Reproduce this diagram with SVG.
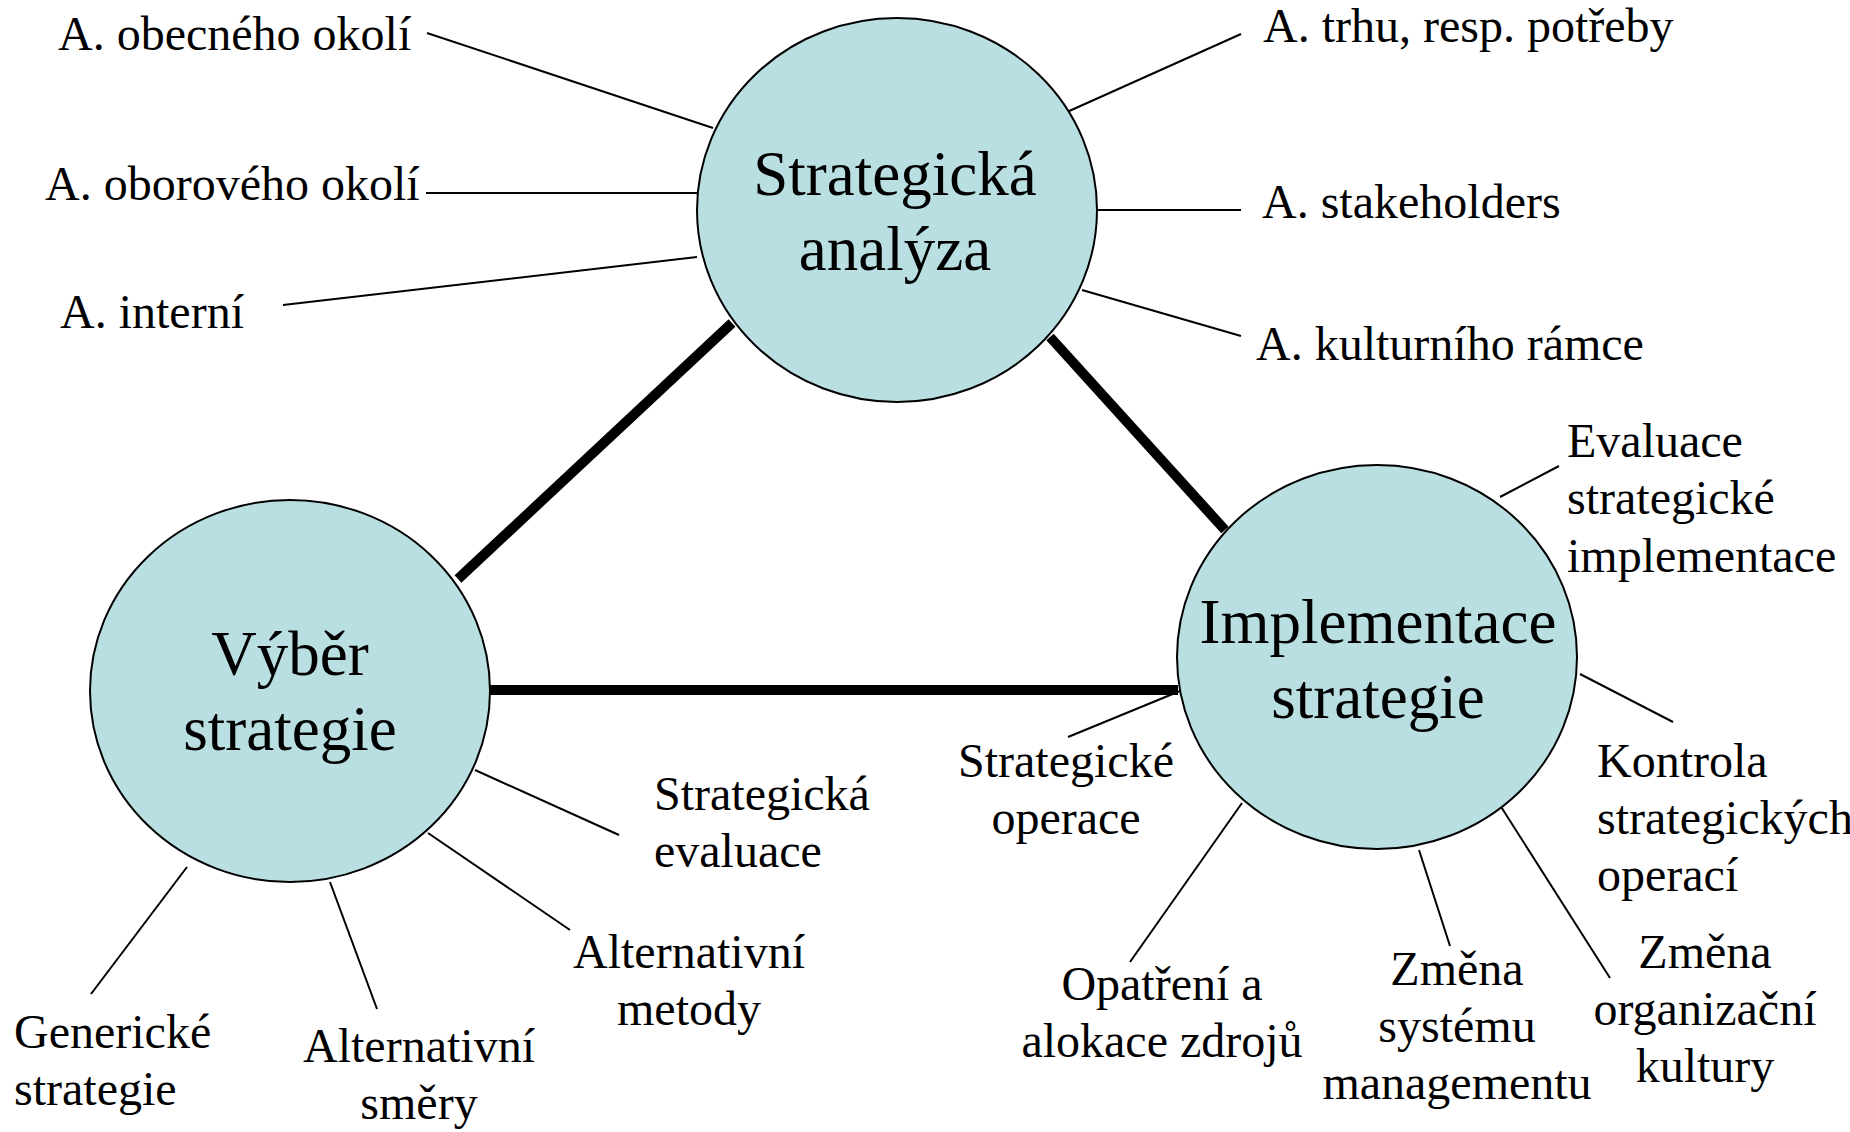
<svg xmlns="http://www.w3.org/2000/svg" width="1850" height="1132" viewBox="0 0 1850 1132">
<style>
.node{fill:#B9DFE2;stroke:#000;stroke-width:2}
.big{font-family:"Liberation Serif","Times New Roman",serif;font-size:63px;fill:#000;text-anchor:middle}
.lbl{font-family:"Liberation Serif","Times New Roman",serif;font-size:48px;fill:#000}
.mid{text-anchor:middle}
.thin{stroke:#000;stroke-width:2;fill:none}
.thick{stroke:#000;stroke-width:10;fill:none}
</style>
<rect width="1850" height="1132" fill="#fff"/>
<g id="connectors">
<line class="thick" x1="732" y1="323" x2="458" y2="579"/>
<line class="thick" x1="1050" y1="337" x2="1225" y2="530"/>
<line class="thick" x1="490" y1="690" x2="1178" y2="690"/>
<line class="thin" x1="427" y1="33" x2="713" y2="128"/>
<line class="thin" x1="426" y1="193" x2="697" y2="193"/>
<line class="thin" x1="283" y1="305" x2="697" y2="257"/>
<line class="thin" x1="1067" y1="112" x2="1241" y2="34"/>
<line class="thin" x1="1097" y1="210" x2="1241" y2="210"/>
<line class="thin" x1="1082" y1="290" x2="1241" y2="336"/>
<line class="thin" x1="1500" y1="497" x2="1559" y2="466"/>
<line class="thin" x1="1580" y1="674" x2="1673" y2="722"/>
<line class="thin" x1="1068" y1="737" x2="1180" y2="691"/>
<line class="thin" x1="1242" y1="803" x2="1130" y2="962"/>
<line class="thin" x1="1419" y1="850" x2="1450" y2="946"/>
<line class="thin" x1="1498" y1="802" x2="1610" y2="978"/>
<line class="thin" x1="475" y1="770" x2="619" y2="835"/>
<line class="thin" x1="428" y1="833" x2="570" y2="930"/>
<line class="thin" x1="330" y1="882" x2="377" y2="1009"/>
<line class="thin" x1="187" y1="867" x2="91" y2="994"/>
</g>
<g id="analyza">
<ellipse class="node" cx="897" cy="210" rx="200" ry="192"/>
<text class="big" x="895" y="195">Strategická</text>
<text class="big" x="895" y="270">analýza</text>
</g>
<g id="vyber">
<ellipse class="node" cx="290" cy="691" rx="200" ry="191"/>
<text class="big" x="290" y="675">Výběr</text>
<text class="big" x="290" y="750">strategie</text>
</g>
<g id="implementace">
<ellipse class="node" cx="1377" cy="657" rx="200" ry="192"/>
<text class="big" x="1378" y="643">Implementace</text>
<text class="big" x="1378" y="718">strategie</text>
</g>
<g id="l-obecne"><text class="lbl" x="58" y="50">A. obecného okolí</text></g>
<g id="l-oborove"><text class="lbl" x="45" y="200">A. oborového okolí</text></g>
<g id="l-interni"><text class="lbl" x="60" y="328">A. interní</text></g>
<g id="l-trh"><text class="lbl" x="1263" y="42">A. trhu, resp. potřeby</text></g>
<g id="l-stake"><text class="lbl" x="1262" y="218">A. stakeholders</text></g>
<g id="l-kult"><text class="lbl" x="1256" y="360">A. kulturního rámce</text></g>
<g id="l-eval-impl"><text class="lbl" x="1567" y="457">Evaluace</text><text class="lbl" x="1567" y="514">strategické</text><text class="lbl" x="1567" y="572">implementace</text></g>
<g id="l-kontrola"><text class="lbl" x="1597" y="777">Kontrola</text><text class="lbl" x="1597" y="834">strategických</text><text class="lbl" x="1597" y="891">operací</text></g>
<g id="l-operace"><text class="lbl mid" x="1066" y="777">Strategické</text><text class="lbl mid" x="1066" y="834">operace</text></g>
<g id="l-opatreni"><text class="lbl mid" x="1162" y="1000">Opatření a</text><text class="lbl mid" x="1162" y="1057">alokace zdrojů</text></g>
<g id="l-system"><text class="lbl mid" x="1457" y="985">Změna</text><text class="lbl mid" x="1457" y="1042">systému</text><text class="lbl mid" x="1457" y="1099">managementu</text></g>
<g id="l-kultura"><text class="lbl mid" x="1705" y="968">Změna</text><text class="lbl mid" x="1705" y="1025">organizační</text><text class="lbl mid" x="1705" y="1082">kultury</text></g>
<g id="l-evaluace"><text class="lbl" x="654" y="810">Strategická</text><text class="lbl" x="654" y="867">evaluace</text></g>
<g id="l-metody"><text class="lbl mid" x="689" y="968">Alternativní</text><text class="lbl mid" x="689" y="1025">metody</text></g>
<g id="l-smery"><text class="lbl mid" x="419" y="1062">Alternativní</text><text class="lbl mid" x="419" y="1119">směry</text></g>
<g id="l-genericke"><text class="lbl" x="14" y="1048">Generické</text><text class="lbl" x="14" y="1105">strategie</text></g>
</svg>
